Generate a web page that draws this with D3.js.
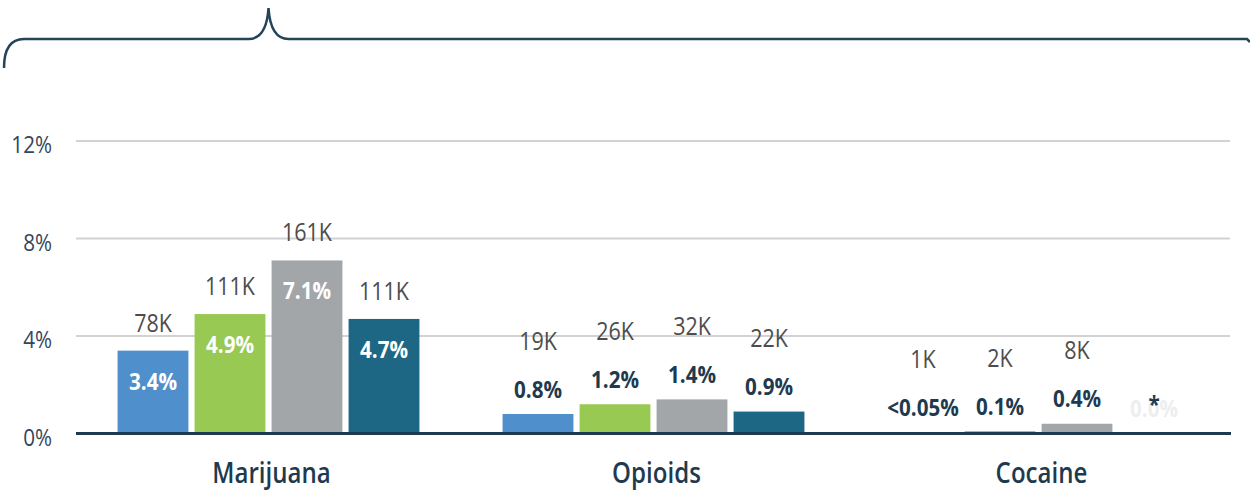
<!DOCTYPE html>
<html>
<head>
<meta charset="utf-8">
<script src="https://cdn.jsdelivr.net/npm/d3@7"></script>
<style>
  html, body { margin: 0; padding: 0; background: #ffffff; }
  svg { display: block; font-family: "Open Sans", "Noto Sans", sans-serif; }
</style>
</head>
<body>
<svg id="chart" width="1250" height="492"></svg>
<script>
// ---- data ----
const categories = ["Marijuana", "Opioids", "Cocaine"];
const seriesNames = ["Series 1", "Series 2", "Series 3", "Series 4"];
const seriesColors = ["#4e8fcc", "#98c952", "#a3a6a9", "#1d6784"];

const marijuanaPct = [3.4, 4.9, 7.1, 4.7];
const opioidsPct   = [0.8, 1.2, 1.4, 0.9];
const cocainePct   = [0.03, 0.1, 0.4, 0];

const marijuanaCounts = ["78K", "111K", "161K", "111K"];
const opioidsCounts   = ["19K", "26K", "32K", "22K"];
const cocaineCounts   = ["1K", "2K", "8K", ""];

const marijuanaLabels = ["3.4%", "4.9%", "7.1%", "4.7%"];
const opioidsLabels   = ["0.8%", "1.2%", "1.4%", "0.9%"];
const cocaineLabels   = ["<0.05%", "0.1%", "0.4%", "0.0%"];
const cocaineNotes    = ["", "", "", "*"];

const yTicks = [0, 4, 8, 12];

const table = [
  { cat: categories[0], pct: marijuanaPct, counts: marijuanaCounts, labels: marijuanaLabels, notes: ["", "", "", ""] },
  { cat: categories[1], pct: opioidsPct,   counts: opioidsCounts,   labels: opioidsLabels,   notes: ["", "", "", ""] },
  { cat: categories[2], pct: cocainePct,   counts: cocaineCounts,   labels: cocaineLabels,   notes: cocaineNotes }
];

(function () {
// ---- layout ----
const svg = d3.select("#chart");
const plotLeft = 76, plotRight = 1231, plotTop = 141, plotBottom = 433.5;
const SX = 0.86; // horizontal text compression
const navy = "#1f3a4f";

const x0 = d3.scaleBand().domain(categories).range([plotLeft, plotRight]).paddingInner(0).paddingOuter(0);
const x1 = d3.scaleBand().domain(seriesNames).range([0, x0.bandwidth()]).paddingInner(0.08).paddingOuter(0.54);
const y = d3.scaleLinear().domain([0, 12]).range([plotBottom, plotTop]);

function addText(g, x, yy, txt, opts) {
  return g.append("text")
    .attr("transform", `translate(${x},${yy}) scale(${SX},1)`)
    .attr("text-anchor", opts.anchor || "middle")
    .attr("font-size", opts.size)
    .attr("font-weight", opts.weight || 400)
    .attr("fill", opts.fill)
    .text(txt);
}

// gridlines
const grid = svg.append("g");
grid.selectAll("line").data(yTicks.filter(t => t > 0)).join("line")
  .attr("x1", plotLeft).attr("x2", plotRight - 1)
  .attr("y1", d => y(d)).attr("y2", d => y(d))
  .attr("stroke", "#d2d2d2").attr("stroke-width", 2);

// y tick labels
const yl = svg.append("g");
yTicks.forEach(t => addText(yl, 52, y(t) + 12, t + "%", { anchor: "end", size: 24, fill: "#34465a" }));

// bars
const groups = svg.append("g").selectAll("g").data(table).join("g")
  .attr("transform", d => `translate(${x0(d.cat)},0)`);

groups.selectAll("rect").data(d => d.pct.map((v, i) => ({ v, i }))).join("rect")
  .attr("x", d => x1(seriesNames[d.i]))
  .attr("width", x1.bandwidth())
  .attr("y", d => y(d.v))
  .attr("height", d => plotBottom - y(d.v))
  .attr("fill", d => seriesColors[d.i]);

// labels
const lab = svg.append("g");
table.forEach(row => {
  row.pct.forEach((v, i) => {
    const cx = x0(row.cat) + x1(seriesNames[i]) + x1.bandwidth() / 2;
    const topY = y(v);
    if (v > 2) {
      addText(lab, cx, topY - 19, row.counts[i], { size: 25, fill: "#4d4d4d" });
      addText(lab, cx, topY + 39, row.labels[i], { size: 24, weight: 700, fill: "#ffffff" });
    } else {
      const pb = topY - 16.5;
      if (row.notes[i]) {
        addText(lab, cx, pb, row.labels[i], { size: 24, weight: 700, fill: "#eeeeee" });
        addText(lab, cx, pb - 4, row.notes[i], { size: 24, weight: 700, fill: navy });
      } else {
        addText(lab, cx, pb, row.labels[i], { size: 24, weight: 700, fill: navy });
      }
      if (row.counts[i]) addText(lab, cx, pb - 48, row.counts[i], { size: 25, fill: "#4d4d4d" });
    }
  });
});

// baseline
svg.append("line")
  .attr("x1", plotLeft).attr("x2", plotRight)
  .attr("y1", plotBottom).attr("y2", plotBottom)
  .attr("stroke", navy).attr("stroke-width", 3);

// category labels
const cl = svg.append("g");
categories.forEach(c => addText(cl, x0(c) + x0.bandwidth() / 2 + 3, 483, c, { size: 28, weight: 600, fill: navy }));

// brace above the first group
const peakX = x0(categories[0]) + x0.bandwidth() / 2;
const by = 39;
const brace = d3.path();
brace.moveTo(4, 68);
brace.quadraticCurveTo(4, by, 24, by);
brace.lineTo(peakX - 20, by);
brace.quadraticCurveTo(peakX - 2, by, peakX, 8);
brace.quadraticCurveTo(peakX + 2, by, peakX + 20, by);
brace.lineTo(1247, by);
brace.lineTo(1250, by + 3);
svg.append("path").attr("d", brace.toString())
  .attr("fill", "none").attr("stroke", "#24445a").attr("stroke-width", 2.5);
})();
</script>
</body>
</html>
